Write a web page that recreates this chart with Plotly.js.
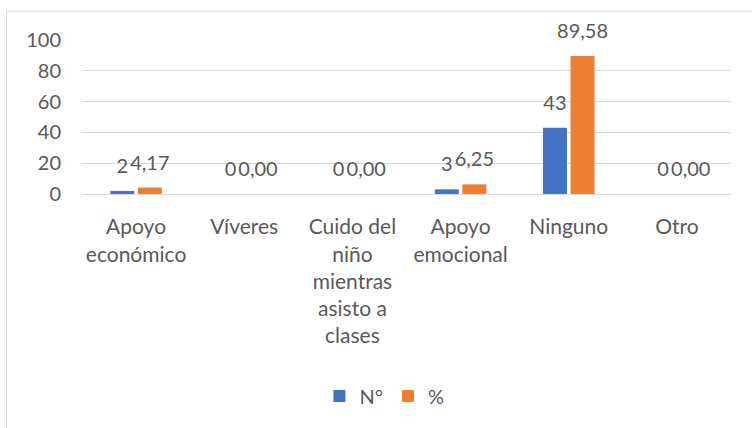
<!DOCTYPE html>
<html>
<head>
<meta charset="utf-8">
<script src="https://cdn.plot.ly/plotly-3.0.1.min.js"></script>
<style>html,body{margin:0;padding:0;background:#fff;}#chart{width:752px;height:428px;}</style>
</head>
<body>
<div id="chart"></div>
<script>
const categories = ["Apoyo<br>económico", "Víveres", "Cuido del<br>niño<br>mientras<br>asisto a<br>clases", "Apoyo<br>emocional", "Ninguno", "Otro"];
const seriesNames = ["N°", "%"];
const countValues = [2, 0, 0, 3, 43, 0];
const percentValues = [4.17, 0, 0, 6.25, 89.58, 0];
const yTicks = [0, 20, 40, 60, 80, 100];

const FONT = "Lato, Calibri, Carlito, 'Liberation Sans', sans-serif";
const TXT = "#595959";
const big = (t) => '<span style="font-size:20px">' + t + '</span><br> ';

const traces = [
  {
    type: "bar", name: seriesNames[0], x: categories, y: countValues,
    marker: {color: "#4472C4"},
    texttemplate: big("%{y}"), textposition: "outside", cliponaxis: false,
    constraintext: "none", textfont: {family: FONT, size: 10, color: TXT}
  },
  {
    type: "bar", name: seriesNames[1], x: categories, y: percentValues,
    marker: {color: "#ED7D31"},
    texttemplate: big("%{y:.2f}"), textposition: "outside", cliponaxis: false,
    constraintext: "none", textfont: {family: FONT, size: 10, color: TXT}
  }
];

const layout = {
  width: 752, height: 428,
  margin: {l: 82, r: 21, t: 40, b: 233.5, pad: 0},
  paper_bgcolor: "#fff", plot_bgcolor: "#fff",
  separators: ",.",
  font: {family: FONT, size: 20, color: TXT},
  barmode: "group", bargap: 0.49, bargroupgap: 0.13,
  showlegend: true,
  legend: {orientation: "h", x: 0.466, xanchor: "center", y: -1.311, yanchor: "middle",
           font: {family: FONT, size: 20, color: TXT}, itemwidth: 30, tracegroupgap: 0},
  xaxis: {
    type: "category", showgrid: false, zeroline: false,
    showline: true, linecolor: "#D9D9D9", linewidth: 1,
    ticks: "", tickfont: {family: FONT, size: 21, color: TXT},
    ticklabelstandoff: 14, tickangle: 0, automargin: false
  },
  yaxis: {
    range: [0, 100], tickvals: yTicks, showgrid: true, gridcolor: "#D9D9D9", gridwidth: 1,
    zeroline: false, showline: false, ticks: "",
    tickfont: {family: FONT, size: 20, color: TXT}, ticklabelstandoff: 20, automargin: false
  },
  shapes: [{
    type: "rect", xref: "paper", yref: "paper",
    x0: (6.5 - 82) / 649, x1: 1.06, y0: -1.6, y1: (194.5 - 11) / 154.5,
    line: {color: "#D9D9D9", width: 1}, fillcolor: "rgba(0,0,0,0)", layer: "below"
  }]
};

Plotly.newPlot("chart", traces, layout, {displayModeBar: false, staticPlot: true});
</script>
</body>
</html>
